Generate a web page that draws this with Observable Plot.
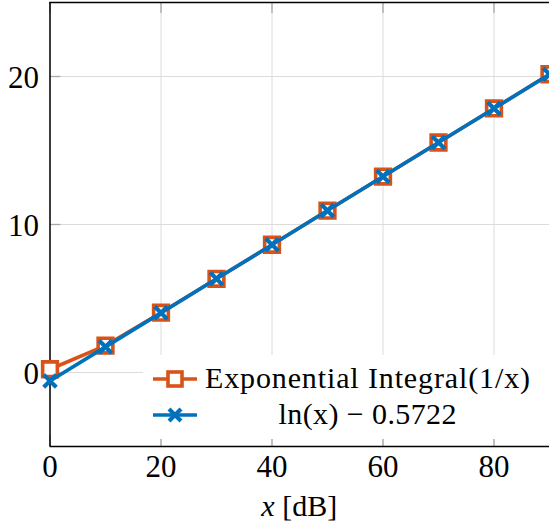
<!DOCTYPE html>
<html>
<head>
<meta charset="utf-8">
<script src="https://cdn.jsdelivr.net/npm/d3@7"></script>
<script src="https://cdn.jsdelivr.net/npm/@observablehq/plot@0.6"></script>
<style>
  html, body { margin: 0; padding: 0; background: white; overflow: hidden; }
  #chart svg { display: block; }
</style>
</head>
<body>
<div id="chart"></div>
<script>
// ---- data ----
const xdB = [0, 10, 20, 30, 40, 50, 60, 70, 80, 90];
const expIntegral = [0.22, 1.82, 4.04, 6.33, 8.63, 10.94, 13.24, 15.54, 17.84, 20.15];
const lnApprox = [-0.57, 1.73, 4.03, 6.33, 8.63, 10.94, 13.24, 15.54, 17.84, 20.15];
const xTicks = [0, 20, 40, 60, 80];
const yTicks = [0, 10, 20];
const seriesNames = ["Exponential Integral(1/x)", "ln(x) \u2212 0.5722"];
const xLabel = ["x", " [dB]"];

const orange = "#D95319";
const blue = "#0072BD";
const font = "'Liberation Serif', 'DejaVu Serif', serif";

const rows = xdB.map((x, i) => ({x, ei: expIntegral[i], ln: lnApprox[i]}));

const W = 549, H = 529, mL = 49.5, mR = 0, mT = 2, mB = 83;
const plotH = H - mT - mB, plotW = W - mL - mR;
const tickLen = 11;
const lw = 3.6;

const chart = Plot.plot({
  width: W, height: H,
  marginLeft: mL, marginRight: mR, marginTop: mT, marginBottom: mB,
  x: {domain: [0, 90]},
  y: {domain: [-5, 25]},
  style: {fontFamily: font, fontSize: "31px", color: "black", background: "white"},
  marks: [
    Plot.gridX(xTicks, {stroke: "#dcdcdc", strokeOpacity: 1, strokeWidth: 1}),
    Plot.gridY(yTicks, {stroke: "#dcdcdc", strokeOpacity: 1, strokeWidth: 1}),
    Plot.ruleX(xTicks, {insetTop: plotH - tickLen, stroke: "#a8a8a8", strokeWidth: 1.3}),
    Plot.ruleX(xTicks, {insetBottom: plotH - tickLen, stroke: "#a8a8a8", strokeWidth: 1.3}),
    Plot.ruleY(yTicks, {insetRight: plotW - tickLen, stroke: "#a8a8a8", strokeWidth: 1.3}),
    Plot.axisX({ticks: xTicks, tickSize: 0, tickPadding: 8, label: null, fontSize: 31}),
    Plot.axisY({ticks: yTicks, tickSize: 0, tickPadding: 11, label: null, fontSize: 31, dy: 1.5}),
    Plot.ruleX([0], {stroke: "black", strokeWidth: 1.5}),
    Plot.ruleY([-5], {stroke: "black", strokeWidth: 1.5}),
    Plot.ruleY([25], {stroke: "black", strokeWidth: 1.5}),
    Plot.line(rows, {x: "x", y: "ei", stroke: orange, strokeWidth: lw}),
    Plot.dot(rows, {x: "x", y: "ei", symbol: "square", r: 8.3, stroke: orange, strokeWidth: 3.6, fill: "white"}),
    Plot.line(rows, {x: "x", y: "ln", stroke: blue, strokeWidth: lw}),
    Plot.dot(rows, {x: "x", y: "ln", symbol: "times", r: 5.8, stroke: blue, strokeWidth: 4.2})
  ]
});
document.getElementById("chart").appendChild(chart);

// ---- legend and axis title ----
const svg = d3.select(chart);
const lg = svg.append("g");
lg.append("rect").attr("x", 143).attr("y", 355).attr("width", 420).attr("height", 84).attr("fill", "white");
const rowY = [379, 415];
const cols = [orange, blue];
rowY.forEach((y, i) => {
  lg.append("line").attr("x1", 153).attr("x2", 197).attr("y1", y).attr("y2", y)
    .attr("stroke", cols[i]).attr("stroke-width", lw);
});
lg.append("rect").attr("x", 175 - 7).attr("y", rowY[0] - 7).attr("width", 14).attr("height", 14)
  .attr("fill", "white").attr("stroke", orange).attr("stroke-width", 3.6);
lg.append("path").attr("d", `M${175-6},${rowY[1]-6}L${175+6},${rowY[1]+6}M${175-6},${rowY[1]+6}L${175+6},${rowY[1]-6}`)
  .attr("stroke", blue).attr("stroke-width", 4.2).attr("fill", "none");
const centerX = 367.5;
const baselines = [388, 424];
const widths = [325, 178];
seriesNames.forEach((name, i) => {
  lg.append("text").attr("x", centerX).attr("y", baselines[i]).attr("text-anchor", "middle")
    .attr("font-family", font).attr("font-size", 30).attr("fill", "black")
    .attr("textLength", widths[i]).attr("lengthAdjust", "spacing").text(name);
});

const t = svg.append("text").attr("x", mL + plotW / 2).attr("y", 516).attr("text-anchor", "middle")
  .attr("font-family", font).attr("font-size", 30).attr("fill", "black");
t.append("tspan").attr("font-style", "italic").text(xLabel[0]);
t.append("tspan").text(xLabel[1]);
</script>
</body>
</html>
